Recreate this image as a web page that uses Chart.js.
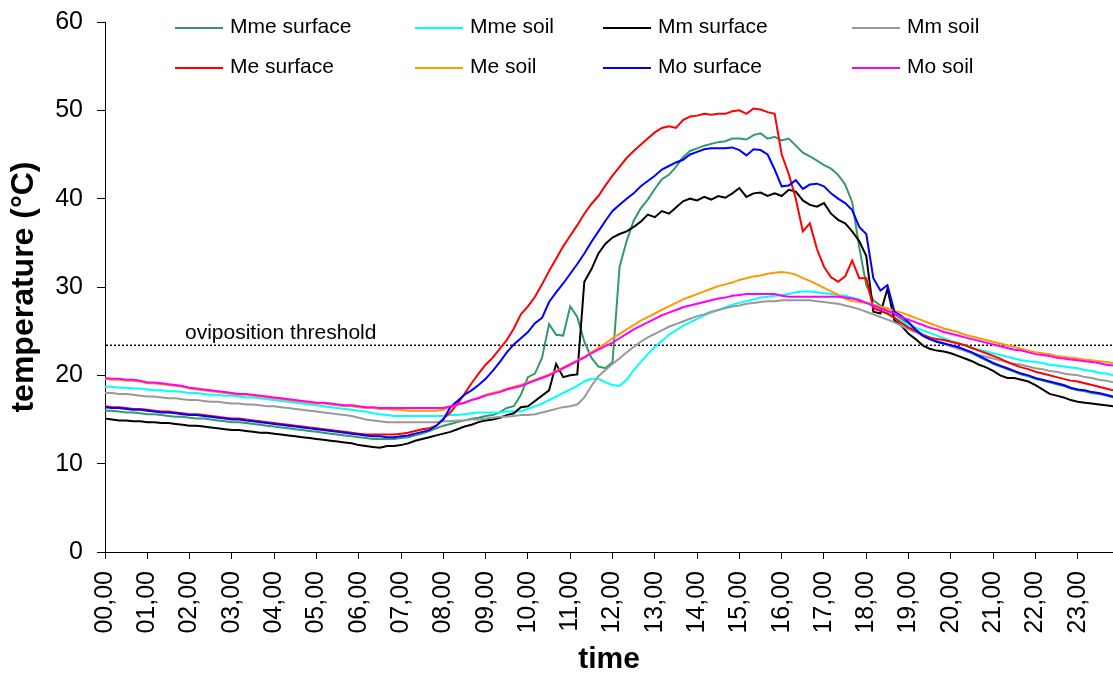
<!DOCTYPE html>
<html>
<head>
<meta charset="utf-8">
<title>Surface and soil temperatures</title>
<script src="https://cdn.jsdelivr.net/npm/chart.js@4.4.1/dist/chart.umd.min.js"></script>
<style>
  html, body { margin: 0; padding: 0; background: #ffffff; }
  #wrap { width: 1113px; height: 673px; }
</style>
</head>
<body>
<div id="wrap"><canvas id="chart" width="1113" height="673"></canvas></div>
<script>
// Readings are logged every 10 minutes, from 00:00 to 23:50.
const sampleMinutes = 10;
const tickLabels = ['00,00','01,00','02,00','03,00','04,00','05,00','06,00','07,00',
                    '08,00','09,00','10,00','11,00','12,00','13,00','14,00','15,00',
                    '16,00','17,00','18,00','19,00','20,00','21,00','22,00','23,00'];
const yTicks = [0, 10, 20, 30, 40, 50, 60];

const thresholdValue = 23.4;
const thresholdText = 'oviposition threshold';

const seriesNames = ['Mme surface', 'Mme soil', 'Mm surface', 'Mm soil',
                     'Me surface', 'Me soil', 'Mo surface', 'Mo soil'];

// temperatures (°C), one row = 2 hours
const mmeSurface = [
  16.0,16.0,15.9,15.8,15.8,15.7,15.6,15.6,15.5,15.4,15.3,15.3,
  15.2,15.1,15.1,15.0,14.9,14.8,14.7,14.7,14.6,14.5,14.4,14.3,
  14.2,14.1,14.0,13.9,13.8,13.7,13.6,13.5,13.4,13.3,13.2,13.1,
  13.0,12.9,12.8,12.8,12.8,12.8,12.9,13.0,13.2,13.4,13.7,14.0,
  14.3,14.5,14.7,14.9,15.1,15.2,15.4,15.5,15.8,16.3,16.5,17.8,
  19.8,20.2,22.0,25.8,24.6,24.5,27.8,26.6,23.8,22.0,21.0,20.8,
  21.5,32.3,35.2,37.5,38.9,39.9,41.1,42.2,42.7,43.6,44.7,45.4,
  45.7,46.0,46.2,46.4,46.5,46.8,46.8,46.7,47.2,47.4,46.8,47.0,
  46.6,46.8,46.0,45.2,44.8,44.3,43.8,43.4,42.7,41.6,39.6,34.5,
  30.2,28.5,27.9,27.3,26.9,26.4,25.8,25.1,24.5,24.1,23.8,23.6,
  23.3,23.1,22.8,22.5,22.1,21.7,21.3,21.0,20.7,20.4,20.1,19.9,
  19.6,19.4,19.2,19.0,18.8,18.5,18.3,18.2,18.0,17.9,17.7,17.5
];
const mmeSoil = [
  18.7,18.7,18.6,18.6,18.5,18.5,18.4,18.3,18.3,18.2,18.2,18.1,
  18.0,18.0,17.9,17.8,17.8,17.7,17.7,17.6,17.5,17.5,17.4,17.3,
  17.2,17.1,17.0,16.9,16.8,16.7,16.6,16.5,16.4,16.3,16.2,16.1,
  16.0,15.9,15.7,15.6,15.5,15.4,15.4,15.4,15.4,15.4,15.4,15.4,
  15.4,15.5,15.5,15.6,15.7,15.8,15.8,15.8,15.8,15.9,15.9,15.9,
  16.2,16.5,16.8,17.2,17.6,18.0,18.4,18.8,19.3,19.6,19.6,19.2,
  18.9,18.8,19.5,20.6,21.5,22.4,23.2,23.9,24.6,25.1,25.6,26.0,
  26.4,26.8,27.1,27.4,27.7,28.0,28.2,28.4,28.6,28.8,28.9,29.0,
  29.1,29.2,29.4,29.5,29.5,29.4,29.3,29.2,29.1,29.0,28.8,28.6,
  28.2,27.8,27.3,26.9,26.5,26.1,25.7,25.4,25.1,24.8,24.5,24.2,
  23.9,23.7,23.4,23.1,22.9,22.7,22.5,22.3,22.1,21.9,21.7,21.6,
  21.5,21.4,21.2,21.1,21.0,20.9,20.8,20.6,20.5,20.3,20.2,20.0
];
const mmSurface = [
  15.1,15.0,14.9,14.9,14.8,14.8,14.7,14.7,14.6,14.6,14.5,14.4,
  14.3,14.3,14.2,14.1,14.0,13.9,13.8,13.8,13.7,13.6,13.5,13.5,
  13.4,13.3,13.2,13.1,13.0,12.9,12.8,12.7,12.6,12.5,12.4,12.3,
  12.1,12.0,11.9,11.8,12.0,12.0,12.1,12.3,12.6,12.8,13.0,13.2,
  13.4,13.6,13.9,14.2,14.4,14.7,14.9,15.0,15.2,15.5,15.7,16.4,
  16.5,17.1,17.7,18.3,21.3,19.8,20.0,20.1,30.6,32.0,33.8,34.9,
  35.6,36.0,36.3,36.8,37.4,38.2,37.9,38.6,38.3,39.0,39.7,40.0,
  39.8,40.2,39.9,40.3,40.1,40.6,41.2,40.2,40.6,40.7,40.3,40.6,
  40.3,41.0,40.8,39.8,39.3,39.1,39.5,38.3,37.6,37.2,36.3,35.2,
  33.5,27.2,27.0,29.8,26.2,25.6,24.7,24.1,23.4,23.0,22.8,22.7,
  22.5,22.2,21.9,21.6,21.2,20.9,20.5,20.0,19.7,19.7,19.5,19.3,
  18.9,18.4,17.9,17.7,17.5,17.2,17.0,16.9,16.8,16.7,16.6,16.5
];
const mmSoil = [
  18.0,18.0,17.9,17.9,17.8,17.7,17.6,17.6,17.5,17.4,17.4,17.3,
  17.2,17.2,17.1,17.0,17.0,16.9,16.8,16.8,16.7,16.7,16.6,16.5,
  16.5,16.4,16.3,16.2,16.1,16.0,15.9,15.8,15.7,15.6,15.5,15.4,
  15.2,15.0,14.9,14.8,14.7,14.7,14.7,14.7,14.7,14.7,14.7,14.7,
  14.8,14.8,14.9,14.9,15.0,15.0,15.1,15.2,15.3,15.3,15.4,15.5,
  15.5,15.6,15.8,16.0,16.2,16.4,16.5,16.7,17.5,18.8,19.9,20.6,
  21.3,21.9,22.6,23.2,23.8,24.3,24.7,25.1,25.5,25.8,26.1,26.4,
  26.7,26.9,27.2,27.4,27.6,27.8,27.9,28.1,28.2,28.3,28.4,28.4,
  28.5,28.5,28.5,28.5,28.5,28.4,28.3,28.2,28.1,27.9,27.7,27.5,
  27.2,26.9,26.6,26.3,26.0,25.6,25.2,24.9,24.5,24.2,23.9,23.6,
  23.3,23.0,22.8,22.5,22.3,22.1,21.9,21.7,21.5,21.3,21.2,21.0,
  20.8,20.7,20.5,20.4,20.2,20.1,20.0,19.8,19.7,19.5,19.4,19.2
];
const meSurface = [
  16.5,16.4,16.4,16.3,16.2,16.2,16.1,16.0,15.9,15.9,15.8,15.7,
  15.6,15.6,15.5,15.4,15.3,15.2,15.1,15.1,15.0,14.9,14.8,14.7,
  14.6,14.5,14.4,14.3,14.2,14.1,14.0,13.9,13.8,13.7,13.6,13.5,
  13.4,13.3,13.3,13.3,13.3,13.3,13.4,13.5,13.7,13.9,14.0,14.3,
  15.1,15.8,16.8,17.9,19.1,20.2,21.2,22.0,23.0,24.0,25.3,26.9,
  27.8,28.9,30.3,31.8,33.2,34.6,35.8,37.0,38.3,39.4,40.3,41.5,
  42.6,43.6,44.6,45.4,46.1,46.8,47.5,48.0,48.2,48.0,48.9,49.3,
  49.4,49.6,49.5,49.6,49.6,49.9,50.0,49.6,50.2,50.1,49.8,49.6,
  45.0,42.8,40.0,36.3,37.2,34.3,32.3,31.1,30.6,31.2,33.0,31.0,
  31.0,27.6,27.3,27.0,26.5,25.9,25.4,25.0,24.6,24.3,24.1,24.0,
  23.8,23.6,23.4,23.1,22.8,22.5,22.2,21.9,21.5,21.2,20.9,20.7,
  20.4,20.2,20.0,19.8,19.6,19.4,19.3,19.1,18.9,18.7,18.5,18.3
];
const meSoil = [
  19.6,19.5,19.5,19.4,19.4,19.3,19.1,19.1,19.0,18.9,18.8,18.7,
  18.5,18.4,18.3,18.2,18.1,18.0,17.9,17.8,17.8,17.7,17.6,17.5,
  17.4,17.3,17.2,17.1,17.0,16.9,16.8,16.8,16.7,16.6,16.5,16.5,
  16.4,16.3,16.3,16.2,16.2,16.1,16.1,16.0,16.0,16.0,16.0,16.0,
  16.1,16.4,16.7,16.9,17.2,17.5,17.8,18.0,18.2,18.5,18.7,18.9,
  19.2,19.5,19.8,20.1,20.5,20.9,21.3,21.7,22.1,22.6,23.1,23.6,
  24.2,24.7,25.2,25.7,26.2,26.6,27.0,27.4,27.8,28.2,28.6,28.9,
  29.2,29.5,29.8,30.1,30.3,30.5,30.8,31.0,31.2,31.3,31.5,31.6,
  31.7,31.6,31.4,31.0,30.7,30.3,29.9,29.5,29.1,28.7,28.4,28.3,
  28.2,28.0,27.8,27.6,27.3,27.1,26.8,26.5,26.2,25.9,25.6,25.3,
  25.1,24.9,24.6,24.4,24.2,24.0,23.8,23.6,23.4,23.2,23.0,22.8,
  22.6,22.5,22.4,22.2,22.1,22.0,21.9,21.8,21.7,21.6,21.5,21.4
];
const moSurface = [
  16.4,16.3,16.3,16.2,16.1,16.1,16.0,15.9,15.8,15.8,15.7,15.6,
  15.5,15.5,15.4,15.3,15.2,15.1,15.0,15.0,14.9,14.8,14.7,14.6,
  14.5,14.4,14.3,14.2,14.1,14.0,13.9,13.8,13.7,13.6,13.5,13.4,
  13.3,13.2,13.1,13.1,13.0,13.0,13.1,13.2,13.4,13.6,13.8,14.3,
  15.0,16.4,17.1,17.8,18.3,18.9,19.6,20.5,21.5,22.6,23.5,24.2,
  24.9,25.9,26.5,28.3,29.4,30.4,31.5,32.6,33.8,35.1,36.3,37.5,
  38.6,39.3,40.0,40.6,41.4,42.0,42.6,43.3,43.7,44.1,44.4,45.0,
  45.3,45.6,45.7,45.7,45.7,45.8,45.5,44.9,45.6,45.5,45.0,43.3,
  41.4,41.5,42.1,41.1,41.6,41.7,41.4,40.6,40.0,39.5,38.7,36.8,
  36.0,31.0,29.6,30.2,27.2,26.7,26.0,25.2,24.5,24.1,23.8,23.6,
  23.4,23.2,22.9,22.6,22.2,21.8,21.4,21.1,20.8,20.5,20.2,20.0,
  19.7,19.5,19.3,19.1,18.9,18.6,18.4,18.3,18.1,18.0,17.8,17.6
];
const moSoil = [
  19.7,19.6,19.6,19.5,19.5,19.4,19.2,19.2,19.1,19.0,18.9,18.8,
  18.6,18.5,18.4,18.3,18.2,18.1,18.0,17.9,17.9,17.8,17.7,17.6,
  17.5,17.4,17.3,17.2,17.1,17.0,16.9,16.9,16.8,16.7,16.6,16.6,
  16.5,16.4,16.4,16.3,16.3,16.3,16.3,16.3,16.3,16.3,16.3,16.3,
  16.3,16.5,16.7,16.9,17.2,17.4,17.7,17.9,18.1,18.4,18.6,18.8,
  19.1,19.4,19.7,20.0,20.4,20.8,21.2,21.6,22.0,22.5,22.9,23.3,
  23.7,24.2,24.7,25.2,25.6,26.0,26.4,26.8,27.1,27.4,27.7,27.9,
  28.1,28.3,28.5,28.7,28.8,29.0,29.1,29.2,29.2,29.2,29.2,29.2,
  29.0,28.9,28.9,28.9,28.9,28.9,28.9,28.9,28.9,28.8,28.7,28.5,
  28.2,27.9,27.6,27.3,27.0,26.6,26.3,26.0,25.7,25.4,25.2,24.9,
  24.7,24.5,24.3,24.1,23.9,23.7,23.5,23.3,23.1,22.9,22.8,22.6,
  22.4,22.3,22.2,22.0,21.9,21.8,21.7,21.6,21.5,21.4,21.2,21.1
];

const seriesValues = [mmeSurface, mmeSoil, mmSurface, mmSoil, meSurface, meSoil, moSurface, moSoil];
const seriesColors = ['#339966', '#00FFFF', '#000000', '#999999',
                      '#FF0000', '#FF9900', '#0000FF', '#FF00FF'];

// time of each reading, in hours
const hours = mmeSurface.map((_, i) => i * sampleMinutes / 60);

const FONT = "'Liberation Sans', Arial, Helvetica, sans-serif";

// legend laid out as 2 rows x 4 columns above the plot
const legendPlugin = {
  id: 'gridLegend',
  afterDraw(chart, args, opts) {
    const ctx = chart.ctx;
    ctx.save();
    ctx.font = opts.fontSize + 'px ' + FONT;
    ctx.textBaseline = 'middle';
    ctx.textAlign = 'left';
    chart.data.datasets.forEach((ds, i) => {
      const col = i % 4, row = Math.floor(i / 4);
      const x = opts.columns[col];
      const y = opts.rows[row];
      ctx.strokeStyle = ds.borderColor;
      ctx.lineWidth = 2;
      ctx.setLineDash([]);
      ctx.beginPath();
      ctx.moveTo(x, y + 1);
      ctx.lineTo(x + opts.lineLength, y + 1);
      ctx.stroke();
      ctx.fillStyle = '#000';
      ctx.fillText(ds.label, x + opts.lineLength + 7, y);
    });
    ctx.restore();
  }
};

// dotted threshold line with its caption
const thresholdPlugin = {
  id: 'threshold',
  beforeDatasetsDraw(chart, args, opts) {
    const {ctx, chartArea} = chart;
    const yPix = chart.scales.y.getPixelForValue(opts.value);
    ctx.save();
    ctx.strokeStyle = '#000';
    ctx.lineWidth = 1.5;
    ctx.setLineDash([2, 2]);
    ctx.beginPath();
    ctx.moveTo(chartArea.left + 1, yPix);
    ctx.lineTo(chartArea.right, yPix);
    ctx.stroke();
    ctx.setLineDash([]);
    ctx.fillStyle = '#000';
    ctx.font = opts.fontSize + 'px ' + FONT;
    ctx.textAlign = 'left';
    ctx.textBaseline = 'alphabetic';
    ctx.fillText(opts.text, chartArea.left + opts.offsetX, yPix - 6);
    ctx.restore();
  }
};

const datasets = seriesNames.map((name, i) => ({
  label: name,
  data: seriesValues[i],
  borderColor: seriesColors[i],
  backgroundColor: seriesColors[i],
  borderWidth: 2,
  pointRadius: 0,
  pointHoverRadius: 0,
  tension: 0,
  fill: false,
  order: seriesNames.length - i
}));

new Chart(document.getElementById('chart'), {
  type: 'line',
  data: { labels: hours, datasets },
  plugins: [thresholdPlugin, legendPlugin],
  options: {
    responsive: false,
    animation: false,
    devicePixelRatio: 1,
    layout: { padding: { top: 22, right: 0, left: 0, bottom: 0 } },
    plugins: {
      legend: { display: false },
      tooltip: { enabled: false },
      gridLegend: { columns: [175, 415, 603, 852], rows: [27, 67], lineLength: 48, fontSize: 21 },
      threshold: { value: thresholdValue, text: thresholdText, offsetX: 80, fontSize: 21 }
    },
    scales: {
      x: {
        type: 'linear',
        min: 0,
        max: hours[hours.length - 1],
        afterFit(scale) {
          scale.height = 121;
          scale.paddingLeft = 0;
          scale.paddingRight = 0;
        },
        afterBuildTicks(scale) { scale.ticks = tickLabels.map((_, i) => ({ value: i })); },
        ticks: {
          autoSkip: false,
          minRotation: 90,
          maxRotation: 90,
          padding: 12,
          color: '#000',
          font: { family: FONT, size: 25 },
          callback: (v) => tickLabels[v]
        },
        grid: { display: true, drawOnChartArea: false, drawTicks: true, tickLength: 7, tickColor: '#000', tickWidth: 1 },
        border: { display: true, color: '#000', width: 1 },
        title: {
          display: true,
          text: 'time',
          color: '#000',
          font: { family: FONT, size: 30, weight: 'bold', lineHeight: 0.9 },
          padding: { top: 0, bottom: 0 }
        }
      },
      y: {
        type: 'linear',
        min: 0,
        max: 60,
        afterFit(scale) {
          scale.width = 105;
          scale.paddingTop = 0;
          scale.paddingBottom = 0;
        },
        afterBuildTicks(scale) { scale.ticks = yTicks.map(v => ({ value: v })); },
        ticks: {
          padding: 14,
          color: '#000',
          font: { family: FONT, size: 25 }
        },
        grid: { display: true, drawOnChartArea: false, drawTicks: true, tickLength: 8, tickColor: '#000', tickWidth: 1 },
        border: { display: true, color: '#000', width: 1 },
        title: {
          display: true,
          text: 'temperature (°C)',
          color: '#000',
          font: { family: FONT, size: 32, weight: 'bold', lineHeight: 1 },
          padding: { top: 8, bottom: 0 }
        }
      }
    }
  }
});
</script>
</body>
</html>
